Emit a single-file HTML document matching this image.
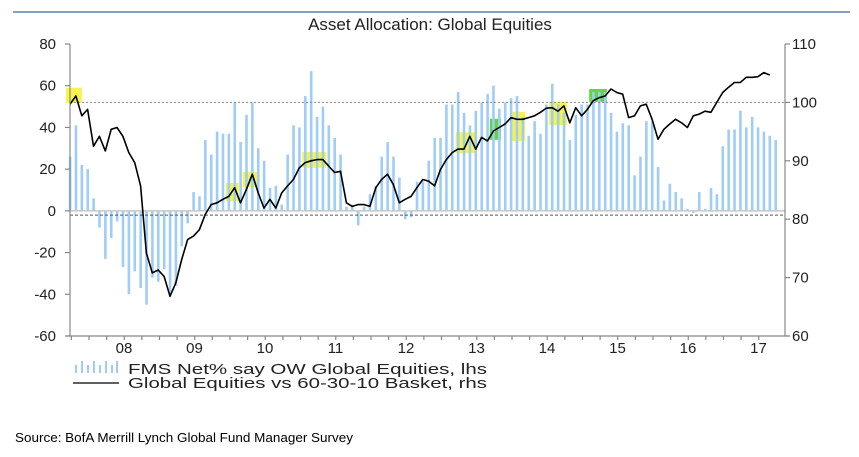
<!DOCTYPE html>
<html><head><meta charset="utf-8"><style>
html,body{margin:0;padding:0;background:#fff;}
svg{display:block;font-family:"Liberation Sans",Arial,sans-serif;}
</style></head><body>
<svg id="chart" width="859" height="457" viewBox="0 0 859 457" xmlns="http://www.w3.org/2000/svg">
<line x1="13" y1="12" x2="850" y2="12" stroke="#5b7fb0" stroke-width="1.5"/>
<text x="430" y="30" font-size="17" text-anchor="middle" fill="#222">Asset Allocation: Global Equities</text>
<g id="hl"></g>
<g id="bars"></g>
<g id="refs"></g>
<g id="line"></g>
<g id="axes"></g>
<g>
  <g fill="#9fcdf7">
    <rect x="75" y="365" width="2" height="8"/><rect x="81" y="361" width="2" height="12"/><rect x="87" y="365" width="2" height="8"/><rect x="93" y="361" width="2" height="12"/><rect x="99" y="365" width="2" height="8"/><rect x="105" y="361" width="2" height="12"/><rect x="111" y="365" width="2" height="8"/><rect x="116" y="361" width="2" height="12"/>
  </g>
  <text x="128" y="374" font-size="15" fill="#222" textLength="359" lengthAdjust="spacingAndGlyphs">FMS Net% say OW Global Equities, lhs</text>
  <line x1="73" y1="383" x2="119" y2="383" stroke="#000" stroke-width="1.2"/>
  <text x="128" y="388" font-size="15" fill="#222" textLength="359" lengthAdjust="spacingAndGlyphs">Global Equities vs 60-30-10 Basket, rhs</text>
</g>
<text x="15" y="442" font-size="13" fill="#000" textLength="338" lengthAdjust="spacingAndGlyphs">Source: BofA Merrill Lynch Global Fund Manager Survey</text>
</svg>
<script>
const NS="http://www.w3.org/2000/svg";
// data: monthly from Oct 2007
const fmsNet=[26,41,22,20,6,-8,-23,-13,-5,-27,-40,-29,-37,-45,-32,-34,-28,-40,-36,-17,-6,9,7,34,27,38,37,37,52,33,46,52,30,24,11,12,3,27,41,40,55,67,45,50,41,35,27,2,3,-7,2,8,12,26,33,26,16,-4,-3,14,14,24,
35,35,51,51,57,47,41,48,52,56,60,49,52,54,55,45,36,43,37,51,61,51,47,34,46,51,51,57,57,57,47,38,42,41,17,26,43,43,21,5,13,9,6,1,-1,9,1,11,8,31,39,39,48,40,45,40,38,36,34];
const equities=[99.7,101.1,97.7,98.8,92.5,94.2,91.7,95.4,95.7,94.2,91.4,89.7,85.7,74.2,70.8,71.3,70.2,66.8,69.1,73.1,76.5,77.1,78.2,80.8,82.5,82.8,83.4,83.9,85.4,82.8,85.1,87.7,84.5,81.9,83.4,81.9,84.5,85.7,86.8,88.8,89.7,90.0,90.2,90.2,89.1,88.0,88.2,82.8,82.2,82.5,82.5,82.2,85.4,86.8,87.7,85.9,82.8,83.4,83.9,85.4,86.8,86.5,
85.7,88.5,90.2,91.4,92.0,92.0,94.2,92.0,94.0,93.4,95.1,95.7,96.3,97.4,97.1,97.1,97.4,97.7,98.3,99.0,99.1,98.5,99.4,96.5,99.1,97.7,98.8,100.3,100.8,101.1,102.3,101.7,101.4,97.4,97.7,99.4,99.7,97.1,93.7,95.4,96.3,97.1,96.5,95.7,97.7,98.0,98.5,98.3,100.0,101.7,102.6,103.4,103.4,104.3,104.3,104.4,105.1,104.7];
const yearLabels=["08","09","10","11","12","13","14","15","16","17"];
const leftTicks=[80,60,40,20,0,-20,-40,-60];
const rightTicks=[110,100,90,80,70,60];
// highlight periods (month index range, rhs range)
const hlStart=[-0.7,26.5,29.4,39.5,65.6,71.4,75.2,81.5,88.3];
const hlEnd=[2.0,28.7,32.1,43.6,68.9,73.3,77.4,84.5,91.3];
const hlLow=[99.9,83.1,85.5,88.8,91.3,93.6,93.4,96.1,100.1];
const hlHigh=[102.5,86.2,88.1,91.5,94.9,97.2,98.4,100.1,102.3];
const hlColor=["y","y","y","y","y","g","y","y","g"];

const X0=70, X1=785, Y0=44, Y1=336;
const xM=i=>70+i*5.88;
const yL=v=>Y0+(80-v)*(Y1-Y0)/140;
const yR=v=>Y0+(110-v)*(Y1-Y0)/50;
const xYear=y=>89+(y-2008)*70.5;
function mk(tag,attrs,parent){const e=document.createElementNS(NS,tag);for(const k in attrs)e.setAttribute(k,attrs[k]);parent.appendChild(e);return e;}

const hl=document.getElementById('hl');
hlStart.forEach((s,i)=>{
  const r=mk('rect',{x:xM(s),y:yR(hlHigh[i]),width:xM(hlEnd[i])-xM(s),height:yR(hlLow[i])-yR(hlHigh[i]),fill:hlColor[i]==='g'?'#4fd12a':'#f5f23a',opacity:0.9},hl);
  
  
});

const bars=document.getElementById('bars');
fmsNet.forEach((v,i)=>{
  const y=Math.min(yL(v),yL(0)), h=Math.abs(yL(v)-yL(0));
  const r=mk('rect',{x:xM(i)-1.2,y:y,width:2.6,height:Math.max(h,0.5),fill:'#9fcdf7'},bars);
  
  
});

const refs=document.getElementById('refs');
const z=mk('line',{x1:X0,x2:X1,y1:yL(0),y2:yL(0),stroke:'#c8c8c8','stroke-width':1.5},refs);


const d1=mk('line',{x1:X0,x2:X1,y1:yR(100),y2:yR(100),stroke:'#888','stroke-width':1,'stroke-dasharray':'2,2'},refs);


const d2=mk('line',{x1:X0,x2:X1,y1:yR(80.7),y2:yR(80.7),stroke:'#555','stroke-width':1,'stroke-dasharray':'3,2'},refs);



const lg=document.getElementById('line');
const p=mk('path',{d:equities.map((v,i)=>(i?'L':'M')+xM(i).toFixed(1)+','+yR(v).toFixed(1)).join(''),fill:'none',stroke:'#000','stroke-width':1.6,'stroke-linejoin':'round'},lg);



const ax=document.getElementById('axes');
const st={stroke:'#888','stroke-width':1.2};
let a=mk('line',Object.assign({x1:X0,x2:X0,y1:Y0,y2:Y1},st),ax);


a=mk('line',Object.assign({x1:X1,x2:X1,y1:Y0,y2:Y1},st),ax);


a=mk('line',Object.assign({x1:X0-4,x2:X1+4,y1:Y1,y2:Y1},st),ax);


leftTicks.forEach(v=>{
  mk('line',Object.assign({x1:X0-5,x2:X0,y1:yL(v),y2:yL(v)},st),ax);
  const t=mk('text',{x:56,y:yL(v)+5,'font-size':15,'text-anchor':'end',fill:'#222'},ax);
  t.textContent=v;
  
  
});
rightTicks.forEach(v=>{
  mk('line',Object.assign({x1:X1,x2:X1+5,y1:yR(v),y2:yR(v)},st),ax);
  const t=mk('text',{x:792,y:yR(v)+5,'font-size':15,fill:'#222'},ax);
  t.textContent=v;
  
  
});
for(let q=0;q<40;q++){
  const x=xYear(2007.75+q*0.25);
  if(x<X0||x>X1)continue;
  mk('line',Object.assign({x1:x,x2:x,y1:Y1,y2:Y1+4},st),ax);
}
yearLabels.forEach((lab,i)=>{
  const t=mk('text',{x:xYear(2008+i)+35,y:353,'font-size':15,'text-anchor':'middle',fill:'#222'},ax);
  t.textContent=lab;
  
  
});
</script>
</body></html>
